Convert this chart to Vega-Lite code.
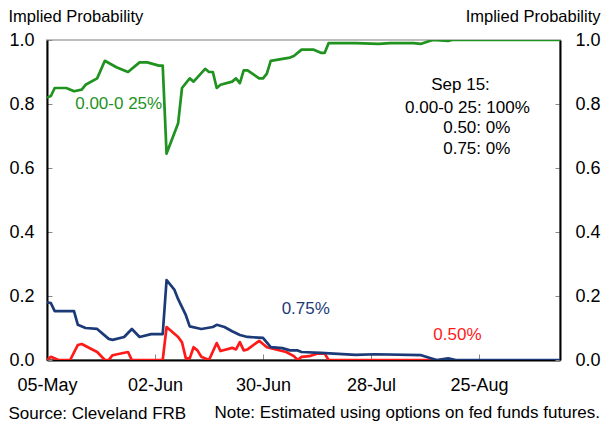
{
  "$schema": "https://vega.github.io/schema/vega-lite/v6.json",
  "width": 513,
  "height": 320,
  "autosize": {"type": "none"},
  "padding": {"left": 47, "top": 40, "right": 43, "bottom": 66},
  "config": {
    "font": "Liberation Sans",
    "view": {"stroke": "#bdbdbd", "strokeWidth": 2},
    "axis": {"grid": false}
  },
  "title": {
    "text": "Note: Estimated using options on fed funds futures.",
    "orient": "bottom",
    "anchor": "end",
    "frame": "group",
    "dx": 40,
    "offset": -8,
    "baseline": "middle",
    "fontSize": 17,
    "fontWeight": "normal",
    "color": "black"
  },
  "datasets": {
    "series": [
      {"date": "2020-05-05", "value": 0, "series": "0.50"},
      {"date": "2020-05-06", "value": 0.01, "series": "0.50"},
      {"date": "2020-05-08", "value": 0, "series": "0.50"},
      {"date": "2020-05-11", "value": 0, "series": "0.50"},
      {"date": "2020-05-13", "value": 0.047, "series": "0.50"},
      {"date": "2020-05-14", "value": 0.05, "series": "0.50"},
      {"date": "2020-05-18", "value": 0.025, "series": "0.50"},
      {"date": "2020-05-20", "value": 0, "series": "0.50"},
      {"date": "2020-05-21", "value": 0, "series": "0.50"},
      {"date": "2020-05-22", "value": 0.015, "series": "0.50"},
      {"date": "2020-05-26", "value": 0.025, "series": "0.50"},
      {"date": "2020-05-27", "value": 0, "series": "0.50"},
      {"date": "2020-06-04", "value": 0, "series": "0.50"},
      {"date": "2020-06-05", "value": 0.103, "series": "0.50"},
      {"date": "2020-06-08", "value": 0.072, "series": "0.50"},
      {"date": "2020-06-09", "value": 0.055, "series": "0.50"},
      {"date": "2020-06-10", "value": 0.005, "series": "0.50"},
      {"date": "2020-06-11", "value": 0.005, "series": "0.50"},
      {"date": "2020-06-12", "value": 0.04, "series": "0.50"},
      {"date": "2020-06-13", "value": 0.03, "series": "0.50"},
      {"date": "2020-06-14", "value": 0.01, "series": "0.50"},
      {"date": "2020-06-16", "value": 0, "series": "0.50"},
      {"date": "2020-06-18", "value": 0.053, "series": "0.50"},
      {"date": "2020-06-19", "value": 0.028, "series": "0.50"},
      {"date": "2020-06-22", "value": 0.038, "series": "0.50"},
      {"date": "2020-06-23", "value": 0.033, "series": "0.50"},
      {"date": "2020-06-24", "value": 0.056, "series": "0.50"},
      {"date": "2020-06-25", "value": 0.03, "series": "0.50"},
      {"date": "2020-06-26", "value": 0.033, "series": "0.50"},
      {"date": "2020-06-29", "value": 0.06, "series": "0.50"},
      {"date": "2020-07-01", "value": 0.04, "series": "0.50"},
      {"date": "2020-07-06", "value": 0.025, "series": "0.50"},
      {"date": "2020-07-08", "value": 0.012, "series": "0.50"},
      {"date": "2020-07-09", "value": 0, "series": "0.50"},
      {"date": "2020-07-10", "value": 0.01, "series": "0.50"},
      {"date": "2020-07-12", "value": 0.012, "series": "0.50"},
      {"date": "2020-07-14", "value": 0.02, "series": "0.50"},
      {"date": "2020-07-16", "value": 0.02, "series": "0.50"},
      {"date": "2020-07-17", "value": 0, "series": "0.50"},
      {"date": "2020-08-14", "value": 0, "series": "0.50"},

      {"date": "2020-05-05", "value": 0.18, "series": "0.75"},
      {"date": "2020-05-06", "value": 0.178, "series": "0.75"},
      {"date": "2020-05-07", "value": 0.153, "series": "0.75"},
      {"date": "2020-05-12", "value": 0.153, "series": "0.75"},
      {"date": "2020-05-13", "value": 0.11, "series": "0.75"},
      {"date": "2020-05-15", "value": 0.1, "series": "0.75"},
      {"date": "2020-05-18", "value": 0.097, "series": "0.75"},
      {"date": "2020-05-21", "value": 0.066, "series": "0.75"},
      {"date": "2020-05-22", "value": 0.063, "series": "0.75"},
      {"date": "2020-05-25", "value": 0.072, "series": "0.75"},
      {"date": "2020-05-27", "value": 0.097, "series": "0.75"},
      {"date": "2020-05-29", "value": 0.072, "series": "0.75"},
      {"date": "2020-06-01", "value": 0.081, "series": "0.75"},
      {"date": "2020-06-04", "value": 0.081, "series": "0.75"},
      {"date": "2020-06-05", "value": 0.25, "series": "0.75"},
      {"date": "2020-06-07", "value": 0.22, "series": "0.75"},
      {"date": "2020-06-08", "value": 0.19, "series": "0.75"},
      {"date": "2020-06-09", "value": 0.165, "series": "0.75"},
      {"date": "2020-06-10", "value": 0.14, "series": "0.75"},
      {"date": "2020-06-11", "value": 0.105, "series": "0.75"},
      {"date": "2020-06-14", "value": 0.097, "series": "0.75"},
      {"date": "2020-06-17", "value": 0.103, "series": "0.75"},
      {"date": "2020-06-18", "value": 0.11, "series": "0.75"},
      {"date": "2020-06-20", "value": 0.103, "series": "0.75"},
      {"date": "2020-06-22", "value": 0.09, "series": "0.75"},
      {"date": "2020-06-24", "value": 0.078, "series": "0.75"},
      {"date": "2020-06-26", "value": 0.072, "series": "0.75"},
      {"date": "2020-06-30", "value": 0.069, "series": "0.75"},
      {"date": "2020-07-02", "value": 0.04, "series": "0.75"},
      {"date": "2020-07-05", "value": 0.037, "series": "0.75"},
      {"date": "2020-07-07", "value": 0.03, "series": "0.75"},
      {"date": "2020-07-09", "value": 0.03, "series": "0.75"},
      {"date": "2020-07-10", "value": 0.025, "series": "0.75"},
      {"date": "2020-07-15", "value": 0.022, "series": "0.75"},
      {"date": "2020-07-24", "value": 0.016, "series": "0.75"},
      {"date": "2020-07-29", "value": 0.018, "series": "0.75"},
      {"date": "2020-08-10", "value": 0.015, "series": "0.75"},
      {"date": "2020-08-14", "value": 0, "series": "0.75"},
      {"date": "2020-08-17", "value": 0.005, "series": "0.75"},
      {"date": "2020-08-19", "value": 0, "series": "0.75"},
      {"date": "2020-09-15", "value": 0, "series": "0.75"},

      {"date": "2020-05-05", "value": 0.82, "series": "0.00-0.25"},
      {"date": "2020-05-06", "value": 0.825, "series": "0.00-0.25"},
      {"date": "2020-05-07", "value": 0.85, "series": "0.00-0.25"},
      {"date": "2020-05-10", "value": 0.85, "series": "0.00-0.25"},
      {"date": "2020-05-12", "value": 0.84, "series": "0.00-0.25"},
      {"date": "2020-05-14", "value": 0.845, "series": "0.00-0.25"},
      {"date": "2020-05-15", "value": 0.86, "series": "0.00-0.25"},
      {"date": "2020-05-18", "value": 0.88, "series": "0.00-0.25"},
      {"date": "2020-05-20", "value": 0.935, "series": "0.00-0.25"},
      {"date": "2020-05-23", "value": 0.915, "series": "0.00-0.25"},
      {"date": "2020-05-26", "value": 0.9, "series": "0.00-0.25"},
      {"date": "2020-05-29", "value": 0.93, "series": "0.00-0.25"},
      {"date": "2020-05-31", "value": 0.93, "series": "0.00-0.25"},
      {"date": "2020-06-03", "value": 0.92, "series": "0.00-0.25"},
      {"date": "2020-06-04", "value": 0.92, "series": "0.00-0.25"},
      {"date": "2020-06-05", "value": 0.645, "series": "0.00-0.25"},
      {"date": "2020-06-08", "value": 0.74, "series": "0.00-0.25"},
      {"date": "2020-06-09", "value": 0.85, "series": "0.00-0.25"},
      {"date": "2020-06-11", "value": 0.88, "series": "0.00-0.25"},
      {"date": "2020-06-12", "value": 0.87, "series": "0.00-0.25"},
      {"date": "2020-06-15", "value": 0.91, "series": "0.00-0.25"},
      {"date": "2020-06-16", "value": 0.9, "series": "0.00-0.25"},
      {"date": "2020-06-17", "value": 0.9, "series": "0.00-0.25"},
      {"date": "2020-06-18", "value": 0.85, "series": "0.00-0.25"},
      {"date": "2020-06-19", "value": 0.86, "series": "0.00-0.25"},
      {"date": "2020-06-22", "value": 0.87, "series": "0.00-0.25"},
      {"date": "2020-06-23", "value": 0.88, "series": "0.00-0.25"},
      {"date": "2020-06-24", "value": 0.865, "series": "0.00-0.25"},
      {"date": "2020-06-25", "value": 0.905, "series": "0.00-0.25"},
      {"date": "2020-06-26", "value": 0.905, "series": "0.00-0.25"},
      {"date": "2020-06-29", "value": 0.88, "series": "0.00-0.25"},
      {"date": "2020-06-30", "value": 0.88, "series": "0.00-0.25"},
      {"date": "2020-07-01", "value": 0.895, "series": "0.00-0.25"},
      {"date": "2020-07-02", "value": 0.935, "series": "0.00-0.25"},
      {"date": "2020-07-07", "value": 0.945, "series": "0.00-0.25"},
      {"date": "2020-07-08", "value": 0.95, "series": "0.00-0.25"},
      {"date": "2020-07-10", "value": 0.97, "series": "0.00-0.25"},
      {"date": "2020-07-13", "value": 0.97, "series": "0.00-0.25"},
      {"date": "2020-07-15", "value": 0.96, "series": "0.00-0.25"},
      {"date": "2020-07-16", "value": 0.96, "series": "0.00-0.25"},
      {"date": "2020-07-17", "value": 0.99, "series": "0.00-0.25"},
      {"date": "2020-07-24", "value": 0.99, "series": "0.00-0.25"},
      {"date": "2020-07-30", "value": 0.988, "series": "0.00-0.25"},
      {"date": "2020-08-02", "value": 0.99, "series": "0.00-0.25"},
      {"date": "2020-08-08", "value": 0.99, "series": "0.00-0.25"},
      {"date": "2020-08-10", "value": 0.988, "series": "0.00-0.25"},
      {"date": "2020-08-13", "value": 1.0, "series": "0.00-0.25"},
      {"date": "2020-08-17", "value": 0.997, "series": "0.00-0.25"},
      {"date": "2020-08-18", "value": 1.0, "series": "0.00-0.25"},
      {"date": "2020-09-15", "value": 1.0, "series": "0.00-0.25"}
    ],
    "labels": [
      {"date": "2020-05-23T14:00:00Z", "value": 0.8, "text": "0.00-0 25%", "series": "0.00-0.25"},
      {"date": "2020-07-11T02:00:00Z", "value": 0.16, "text": "0.75%", "series": "0.75"},
      {"date": "2020-08-19T10:00:00Z", "value": 0.078, "text": "0.50%", "series": "0.50"},
      {"date": "2020-08-20T05:00:00Z", "value": 0.859, "text": "Sep 15:", "series": "note"},
      {"date": "2020-08-22T00:00:00Z", "value": 0.7875, "text": "0.00-0 25: 100%", "series": "note"},
      {"date": "2020-08-24T10:00:00Z", "value": 0.725, "text": "0.50: 0%", "series": "note"},
      {"date": "2020-08-24T10:00:00Z", "value": 0.66, "text": "0.75: 0%", "series": "note"}
    ]
  },
  "layer": [
    {
      "data": {"name": "series"},
      "mark": {"type": "line", "strokeWidth": 2.7, "clip": true, "strokeJoin": "round"},
      "encoding": {
        "x": {
          "field": "date",
          "type": "temporal",
          "scale": {
            "type": "utc",
            "domain": [
              {"year": 2020, "month": 5, "date": 5, "utc": true},
              {"year": 2020, "month": 9, "date": 15, "utc": true}
            ]
          },
          "axis": {
            "values": [
              {"year": 2020, "month": 5, "date": 5, "utc": true},
              {"year": 2020, "month": 6, "date": 2, "utc": true},
              {"year": 2020, "month": 6, "date": 30, "utc": true},
              {"year": 2020, "month": 7, "date": 28, "utc": true},
              {"year": 2020, "month": 8, "date": 25, "utc": true}
            ],
            "labelExpr": "utcFormat(datum.value, '%d-%b')",
            "domainColor": "black",
            "domainWidth": 2,
            "tickColor": "#888888",
            "tickSize": -6,
            "tickWidth": 1,
            "labelFontSize": 18,
            "labelColor": "black",
            "labelBaseline": "middle",
            "labelPadding": 31,
            "labelFlush": false,
            "labelOverlap": false,
            "title": "Source: Cleveland FRB",
            "titleX": -39,
            "titleY": 53,
            "titleAlign": "left",
            "titleBaseline": "middle",
            "titleFontSize": 17,
            "titleFontWeight": "normal",
            "titleColor": "black"
          }
        },
        "y": {
          "field": "value",
          "type": "quantitative",
          "scale": {"domain": [0, 1], "nice": false, "zero": false},
          "axis": {
            "orient": "left",
            "values": [0, 0.2, 0.4, 0.6, 0.8, 1.0],
            "format": ".1f",
            "domainColor": "black",
            "domainWidth": 2,
            "tickColor": "#888888",
            "tickSize": -5,
            "tickWidth": 1,
            "labelFontSize": 18,
            "labelColor": "black",
            "labelPadding": 18,
            "labelFlush": false,
            "labelOverlap": false,
            "title": "Implied Probability",
            "titleAngle": 0,
            "titleX": -39,
            "titleY": -24,
            "titleAlign": "left",
            "titleBaseline": "middle",
            "titleFontSize": 16.5,
            "titleFontWeight": "normal",
            "titleColor": "black"
          }
        },
        "color": {
          "field": "series",
          "type": "nominal",
          "scale": {
            "domain": ["0.50", "0.75", "0.00-0.25", "note"],
            "range": ["#ff1a1a", "#1d3a78", "#1f921f", "#000000"]
          },
          "legend": null
        }
      }
    },
    {
      "data": {"name": "labels"},
      "mark": {"type": "text", "fontSize": 17, "align": "center", "baseline": "middle"},
      "encoding": {
        "x": {"field": "date", "type": "temporal"},
        "y": {
          "field": "value",
          "type": "quantitative",
          "scale": {"domain": [0, 1], "nice": false, "zero": false},
          "axis": {
            "orient": "right",
            "values": [0, 0.2, 0.4, 0.6, 0.8, 1.0],
            "format": ".1f",
            "domainColor": "black",
            "domainWidth": 2,
            "tickColor": "#888888",
            "tickSize": -5,
            "tickWidth": 1,
            "labelFontSize": 18,
            "labelColor": "black",
            "labelPadding": 20,
            "labelFlush": false,
            "labelOverlap": false,
            "title": "Implied Probability",
            "titleAngle": 0,
            "titleX": 40,
            "titleY": -24,
            "titleAlign": "right",
            "titleBaseline": "middle",
            "titleFontSize": 16.5,
            "titleFontWeight": "normal",
            "titleColor": "black"
          }
        },
        "text": {"field": "text", "type": "nominal"},
        "color": {"field": "series", "type": "nominal", "legend": null}
      }
    }
  ],
  "resolve": {"axis": {"y": "independent"}}
}
